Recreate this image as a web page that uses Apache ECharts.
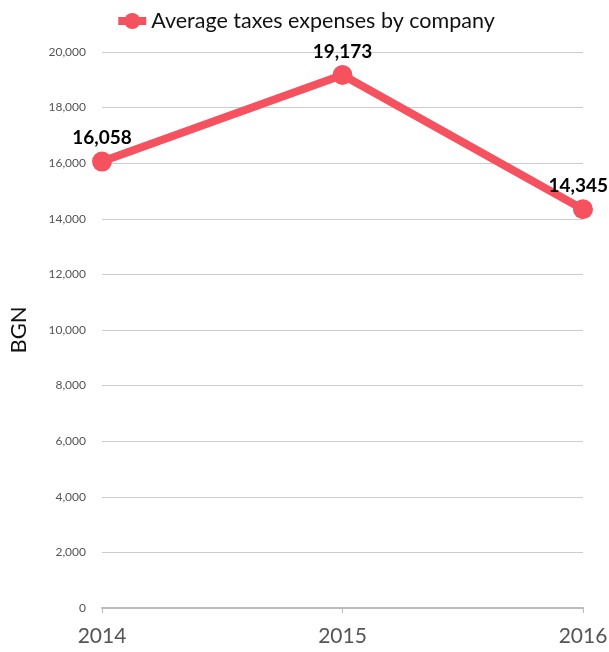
<!DOCTYPE html>
<html style="height: 100%">
<head>
    <meta charset="utf-8">
</head>
<body style="height: 100%; margin: 0">
<div id="container" style="width: 609px; height: 652px"></div>
<script type="text/javascript" src="https://cdn.jsdelivr.net/npm/echarts@6/dist/echarts.min.js"></script>
<script type="text/javascript">
    var years = ['2014', '2015', '2016'];
    var taxes = [16058, 19173, 14345];
    var seriesName = 'Average taxes expenses by company';

    var myChart = echarts.init(document.getElementById('container'));
    var option = {
        backgroundColor: '#ffffff',
        textStyle: {fontFamily: 'Lato'},
        legend: {
            top: 5,
            left: 'center',
            itemWidth: 28,
            itemHeight: 20,
            itemGap: 6,
            lineStyle: {width: 8},
            textStyle: {fontSize: 21.5, color: '#111', fontFamily: 'Lato'},
            data: [seriesName]
        },
        grid: {left: 102, right: 26, top: 52, bottom: 44, outerBoundsMode: 'none', containLabel: false},
        xAxis: {
            type: 'category',
            boundaryGap: false,
            data: years,
            axisLine: {lineStyle: {color: '#bbb', width: 2}},
            axisTick: {show: true, length: 5, lineStyle: {color: '#bbb'}},
            axisLabel: {fontSize: 21, color: '#555', margin: 18}
        },
        yAxis: {
            type: 'value',
            min: 0,
            max: 20000,
            interval: 2000,
            name: 'BGN',
            nameLocation: 'middle',
            nameGap: 72,
            nameTextStyle: {fontSize: 22, color: '#111'},
            axisLine: {show: false},
            axisTick: {show: false},
            axisLabel: {
                fontSize: 12,
                color: '#555',
                margin: 16,
                formatter: function (v) { return v.toLocaleString('en-US'); }
            },
            splitLine: {lineStyle: {color: '#ccc', width: 1}}
        },
        series: [{
            name: seriesName,
            type: 'line',
            data: taxes,
            symbol: 'circle',
            symbolSize: 20,
            color: '#f5515f',
            lineStyle: {width: 8, color: '#f5515f'},
            itemStyle: {color: '#f5515f'},
            label: {
                show: true,
                position: 'top',
                distance: 4,
                fontSize: 19,
                fontWeight: 'bold',
                color: '#000',
                formatter: function (p) { return p.value.toLocaleString('en-US'); }
            },
            // keep the last label inside the canvas
            labelLayout: function (p) {
                var r = p.labelRect;
                if (r.x + r.width > 608) {
                    return {dx: 608 - (r.x + r.width)};
                }
                return {};
            }
        }]
    };
    myChart.setOption(option);
</script>
</body>
</html>
